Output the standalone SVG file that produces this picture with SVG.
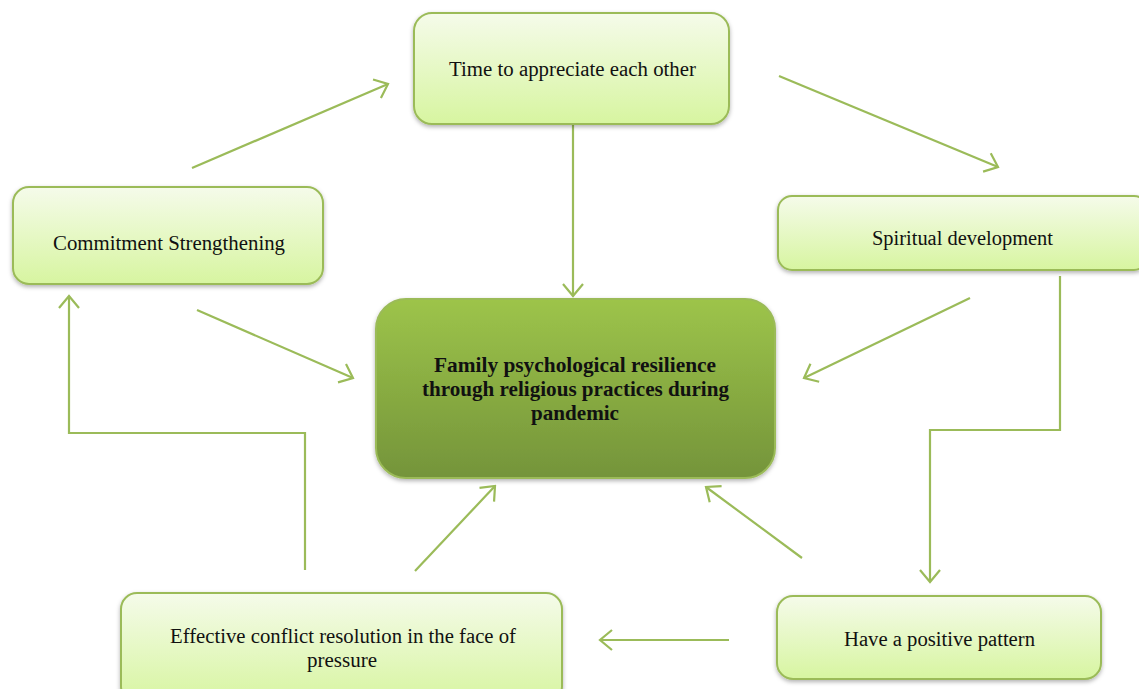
<svg xmlns="http://www.w3.org/2000/svg" width="1139" height="689" viewBox="0 0 1139 689">
<defs>
<linearGradient id="gl" x1="0" y1="0" x2="0" y2="1">
<stop offset="0" stop-color="#F5FBEA"/>
<stop offset="1" stop-color="#D7F5A0"/>
</linearGradient>
<linearGradient id="gc" x1="0" y1="0" x2="0" y2="1">
<stop offset="0" stop-color="#9DC44A"/>
<stop offset="1" stop-color="#74943A"/>
</linearGradient>
<filter id="sh" x="-10%" y="-10%" width="120%" height="130%">
<feDropShadow dx="0" dy="2" stdDeviation="2" flood-color="#000" flood-opacity="0.3"/>
</filter>
<marker id="ahl" viewBox="0 0 24 24" refX="22" refY="12" markerWidth="24" markerHeight="24" markerUnits="userSpaceOnUse" orient="auto">
<path d="M10,2 L22,12 L10,22" fill="none" stroke="#9BBB59" stroke-width="2.2"/>
</marker>
</defs>
<style>
.n{fill:url(#gl);stroke:#9BBB59;stroke-width:2;filter:url(#sh)}
.c{fill:url(#gc);stroke:#9BBB59;stroke-width:2;filter:url(#sh)}
.t{font-family:"Liberation Serif",serif;font-size:20px;fill:#111;text-anchor:middle}
.tb{font-family:"Liberation Serif",serif;font-size:21px;font-weight:bold;fill:#111;text-anchor:middle}
.e{fill:none;stroke:#9BBB59;stroke-width:2.2;marker-end:url(#ahl)}
</style>
<rect width="1139" height="689" fill="#fff"/>
<g id="connectors">
<line class="e" x1="192" y1="168" x2="388" y2="84"/>
<line class="e" x1="779" y1="76" x2="998" y2="167"/>
<line class="e" x1="573" y1="112" x2="573" y2="296"/>
<line class="e" x1="197" y1="310" x2="353" y2="378"/>
<line class="e" x1="970" y1="298" x2="804" y2="378"/>
<polyline class="e" points="1060,276 1060,430 930,430 930,582"/>
<line class="e" x1="802" y1="558" x2="706" y2="487"/>
<line class="e" x1="729" y1="640" x2="600" y2="640"/>
<line class="e" x1="415" y1="571" x2="495" y2="486"/>
<polyline class="e" points="305,570 305,433 69,433 69,296"/>
</g>
<g id="node-time">
<rect class="n" x="414" y="13" width="315" height="111" rx="18"/>
<text class="t" x="572.5" y="76" textLength="247" lengthAdjust="spacingAndGlyphs">Time to appreciate each other</text>
</g>
<g id="node-commitment">
<rect class="n" x="13" y="187" width="310" height="97" rx="16"/>
<text class="t" x="169" y="250" textLength="232" lengthAdjust="spacingAndGlyphs">Commitment Strengthening</text>
</g>
<g id="node-spiritual">
<rect class="n" x="778" y="196" width="370" height="74" rx="14"/>
<text class="t" x="962.5" y="245" textLength="181" lengthAdjust="spacingAndGlyphs">Spiritual development</text>
</g>
<g id="node-center">
<rect class="c" x="376" y="299" width="399" height="179" rx="30"/>
<text class="tb" x="575" y="372" textLength="282" lengthAdjust="spacingAndGlyphs">Family psychological resilience</text>
<text class="tb" x="575.5" y="396" textLength="307" lengthAdjust="spacingAndGlyphs">through religious practices during</text>
<text class="tb" x="575" y="420" textLength="88" lengthAdjust="spacingAndGlyphs">pandemic</text>
</g>
<g id="node-effective">
<rect class="n" x="121" y="593" width="441" height="110" rx="16"/>
<text class="t" x="343" y="643" textLength="346" lengthAdjust="spacingAndGlyphs">Effective conflict resolution in the face of</text>
<text class="t" x="342" y="667" textLength="70" lengthAdjust="spacingAndGlyphs">pressure</text>
</g>
<g id="node-positive">
<rect class="n" x="777" y="596" width="324" height="83" rx="16"/>
<text class="t" x="939.5" y="646" textLength="191" lengthAdjust="spacingAndGlyphs">Have a positive pattern</text>
</g>
</svg>
